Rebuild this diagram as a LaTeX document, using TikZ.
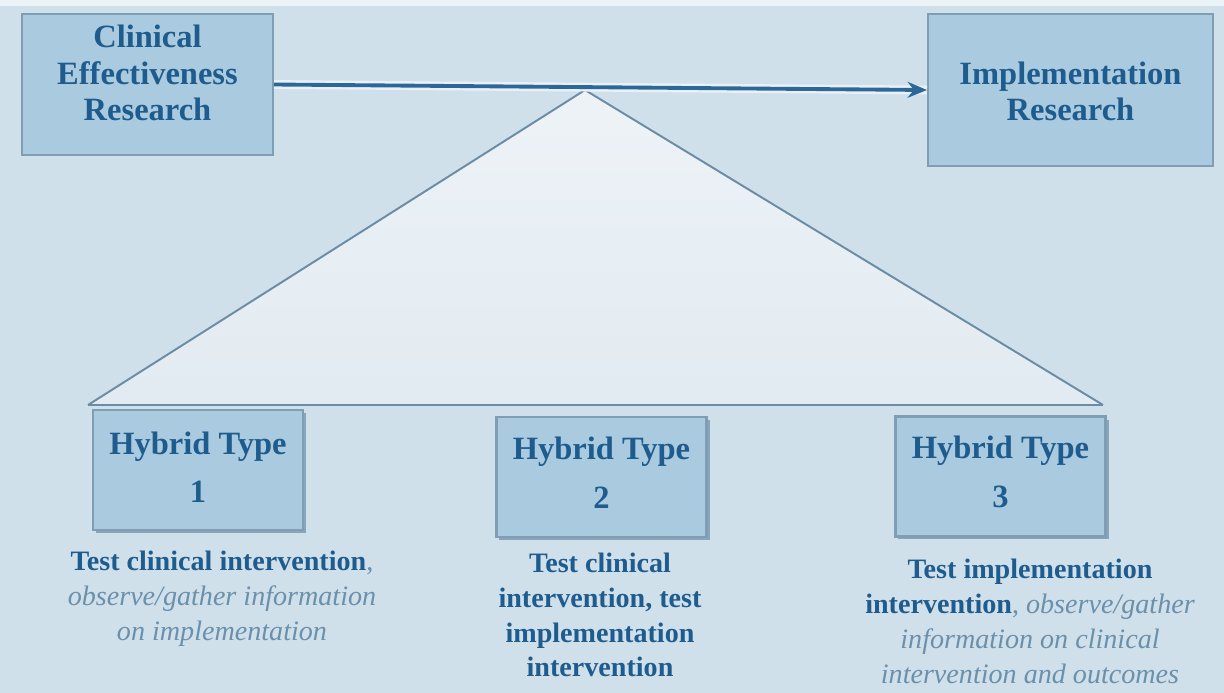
\documentclass[tikz,border=0pt]{standalone}
\usepackage{fontspec}
\setmainfont{Liberation Serif}
\usetikzlibrary{arrows.meta}
\definecolor{bgc}{HTML}{D0E0EB}
\definecolor{boxfill}{HTML}{AACADF}
\definecolor{boxline}{HTML}{7F9EB4}
\definecolor{shadowc}{HTML}{87A5BB}
\definecolor{titlec}{HTML}{1F5C8E}
\definecolor{itc}{HTML}{6A90AB}
\definecolor{arrowc}{HTML}{2C679A}
\definecolor{trifill}{HTML}{E4ECF2}
\definecolor{triline}{HTML}{6A8CA5}
\begin{document}
\begin{tikzpicture}[x=0.02cm,y=-0.02cm,
  box/.style={draw=boxline, line width=1.2pt, fill=boxfill, inner sep=0pt},
  hbox/.style={box, minimum width=4.2cm, minimum height=2.4cm},
  ttl/.style={text=titlec, font=\fontsize{18.5}{20.6}\selectfont\bfseries, align=center, inner sep=0pt},
  desc/.style={text=titlec, font=\fontsize{16}{19.8}\selectfont, align=center, inner sep=0pt},
  shad/.style={fill=shadowc}
]
% background
\fill[bgc] (0,0) rectangle (1224,693);
\fill[white!60!bgc] (0,0) rectangle (1224,6);
% top boxes
\node[box, minimum width=5.02cm, minimum height=2.82cm] (ce) at (147.5,84.5) {};
\node[ttl] (cet) at (147.5,73) {Clinical\\Effectiveness\\Research};
\node[box, minimum width=5.7cm, minimum height=3.04cm] (ir) at (1070.5,90) {};
\node[ttl] (irt) at (1070.5,91) {Implementation\\Research};
% triangle
\coordinate (apex) at (585,90);
\coordinate (bl) at (88,405);
\coordinate (br) at (1103,405);
\shade[top color=white!35!trifill, bottom color=trifill!90!bgc] (apex) -- (br) -- (bl) -- cycle;
\draw[triline, line width=1.1pt, line join=miter] (bl) -- (apex) -- (br);
\draw[triline, line width=1.6pt] (bl) -- (br);
% arrow
\draw[white!55!bgc, line width=5pt] (ce.east) -- (ir.west);
\draw[arrowc, line width=2.2pt, -{Stealth[length=11pt,width=9pt]}] (ce.east) -- (ir.west);
% hybrid boxes
\fill[shad] (96,413) rectangle (306,533);
\node[hbox] (h1) at (198,470) {};
\node[ttl] (h1t) at (198,467) {Hybrid Type\\[7pt]1};
\fill[shad] (499,420) rectangle (710,540);
\node[hbox] (h2) at (601.5,477) {};
\node[ttl] (h2t) at (601.5,472.5) {Hybrid Type\\[7pt]2};
\fill[shad] (898,420) rectangle (1109,539);
\node[hbox] (h3) at (1000.5,476.5) {};
\node[ttl] (h3t) at (1000.5,472) {Hybrid Type\\[7pt]3};
% descriptions
\node[desc] (d1) at (222,599) {\textbf{Test clinical intervention}{\color{itc},}\\{\color{itc}\itshape observe/gather information}\\{\color{itc}\itshape on implementation}};
\node[desc] (d2) at (600,615) {\textbf{Test clinical}\\\textbf{intervention, test}\\\textbf{implementation}\\\textbf{intervention}};
\node[desc] (d3) at (1030,621.5) {\textbf{Test implementation}\\\textbf{intervention}{\color{itc}, \itshape observe/gather}\\{\color{itc}\itshape information on clinical}\\{\color{itc}\itshape intervention and outcomes}};
\end{tikzpicture}
\end{document}
